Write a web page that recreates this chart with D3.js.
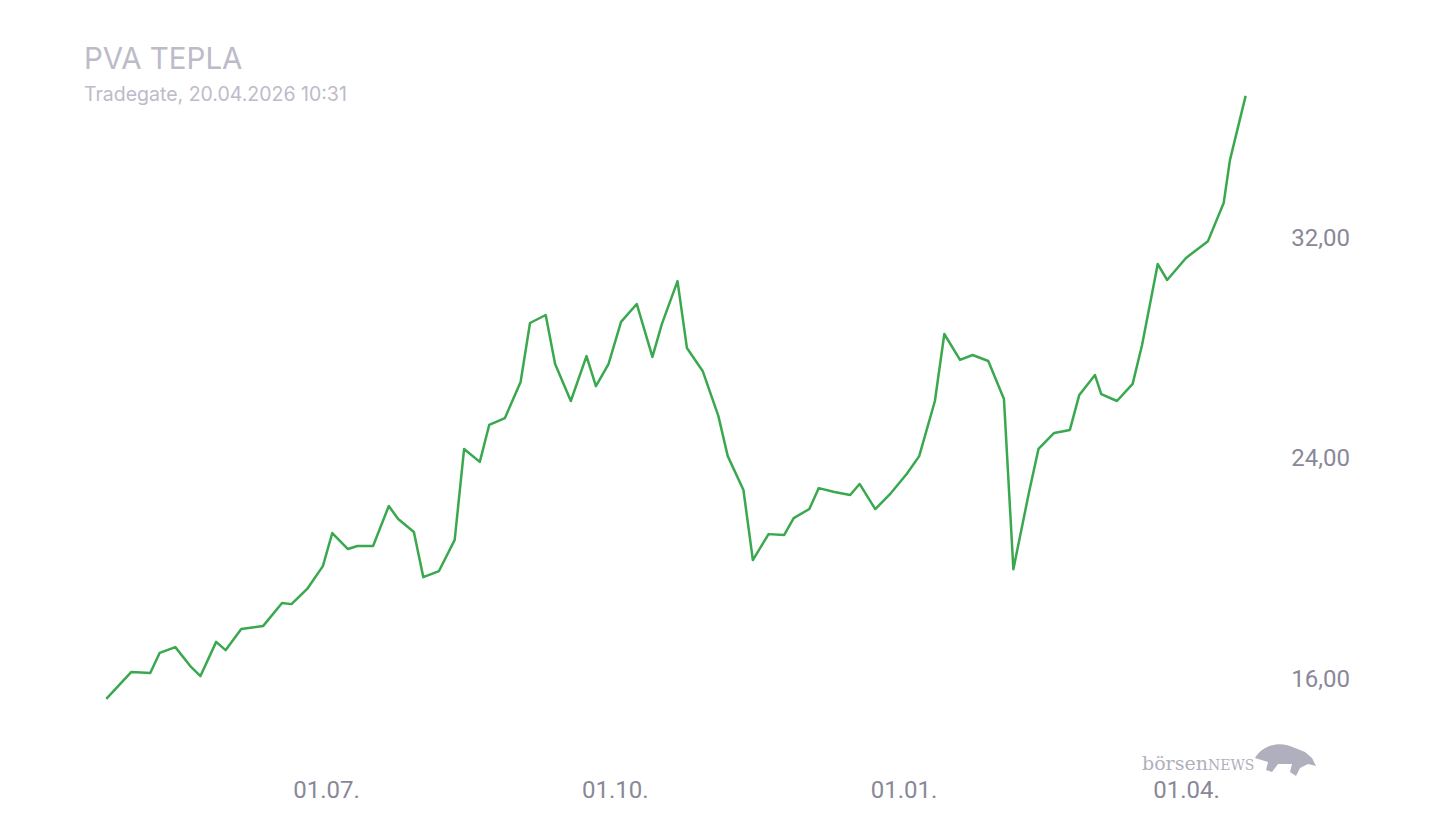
<!DOCTYPE html>
<html><head><meta charset="utf-8">
<script src="https://cdn.jsdelivr.net/npm/d3@7"></script>
<style>body{margin:0;background:#fff}</style></head>
<body><svg id="c" width="1440" height="840"></svg>
<script>
const dates=["2025-04-22","2025-04-30","2025-05-06","2025-05-09","2025-05-14","2025-05-19","2025-05-22","2025-05-27","2025-05-30","2025-06-04","2025-06-11","2025-06-17","2025-06-20","2025-06-25","2025-06-30","2025-07-03","2025-07-08","2025-07-11","2025-07-16","2025-07-21","2025-07-24","2025-07-29","2025-08-01","2025-08-06","2025-08-11","2025-08-14","2025-08-19","2025-08-22","2025-08-27","2025-09-01","2025-09-04","2025-09-09","2025-09-12","2025-09-17","2025-09-22","2025-09-25","2025-09-29","2025-10-03","2025-10-08","2025-10-13","2025-10-16","2025-10-21","2025-10-24","2025-10-29","2025-11-03","2025-11-06","2025-11-11","2025-11-14","2025-11-19","2025-11-24","2025-11-27","2025-12-02","2025-12-05","2025-12-10","2025-12-15","2025-12-18","2025-12-23","2025-12-28","2026-01-02","2026-01-06","2026-01-11","2026-01-14","2026-01-19","2026-01-23","2026-01-28","2026-02-02","2026-02-05","2026-02-10","2026-02-13","2026-02-18","2026-02-23","2026-02-26","2026-03-03","2026-03-05","2026-03-10","2026-03-15","2026-03-18","2026-03-23","2026-03-26","2026-04-01","2026-04-08","2026-04-13","2026-04-15","2026-04-20"];
const prices=[15.24,16.22,16.18,16.91,17.12,16.40,16.07,17.31,17.01,17.78,17.89,18.72,18.68,19.23,20.06,21.26,20.68,20.79,20.79,22.24,21.77,21.30,19.66,19.88,21.01,24.31,23.84,25.18,25.43,26.74,28.88,29.17,27.39,26.05,27.68,26.59,27.39,28.92,29.57,27.65,28.84,30.40,27.97,27.14,25.51,24.05,22.82,20.28,21.22,21.19,21.80,22.13,22.89,22.75,22.64,23.04,22.13,22.71,23.40,24.05,26.05,28.48,27.54,27.72,27.50,26.12,19.95,22.75,24.31,24.89,25.00,26.27,26.99,26.30,26.05,26.67,28.08,31.02,30.44,31.24,31.85,33.23,34.79,37.12];
const yTicks=[16,24,32];
const xTicks=["2025-07-01","2025-10-01","2026-01-01","2026-04-01"];
const title="PVA TEPLA", subtitle="Tradegate, 20.04.2026 10:31";

const svg=d3.select("#c");
const p=d3.timeParse("%Y-%m-%d");
const data=dates.map((d,i)=>({d:p(d),v:prices[i]}));
const x=d3.scaleTime().domain([p("2025-07-01"),p("2026-04-01")]).range([326,1186]);
const y=d3.scaleLinear().domain([16,32]).range([678,237]);

svg.append("text").attr("x",84).attr("y",69).text(title).attr("font-family","Inter, Roboto, sans-serif").attr("font-size",29.5).attr("fill","#bdbbc9");
svg.append("text").attr("x",84).attr("y",101).text(subtitle).attr("font-family","Inter, Roboto, sans-serif").attr("font-size",19.5).attr("fill","#bdbbc9");

const ya=svg.append("g").attr("transform","translate(1350,0)").call(d3.axisLeft(y).tickValues(yTicks).tickSize(0).tickFormat(d=>d3.format(".2f")(d).replace(".",",")));
ya.select(".domain").remove();
ya.selectAll("text").attr("font-family","Roboto, sans-serif").attr("font-size",24).attr("fill","#8a8898").attr("dy","0.35em").attr("x",0);

const xa=svg.append("g").attr("transform","translate(0,780)").call(d3.axisBottom(x).tickValues(xTicks.map(p)).tickSize(0).tickFormat(d3.timeFormat("%d.%m.")));
xa.select(".domain").remove();
xa.selectAll("text").attr("font-family","Roboto, sans-serif").attr("font-size",24).attr("fill","#8a8898").attr("dy","0.35em").attr("y",10);

svg.append("path").datum(data).attr("d",d3.line().x(d=>x(d.d)).y(d=>y(d.v))).attr("fill","none").attr("stroke","#3aa84f").attr("stroke-width",2.5).attr("stroke-linejoin","round");

const lg=svg.append("g");
lg.append("text").attr("x",1142).attr("y",770).attr("font-family","DejaVu Serif, serif").attr("font-size",19).attr("fill","#b0afbd").text("börsen").append("tspan").attr("font-size",14).text("NEWS");
lg.append("path").attr("d","M1255,758 C1262,745 1280,740 1295,748 L1305,752 L1312,758 L1316,766 L1308,764 L1300,768 L1296,776 L1290,772 L1292,764 L1278,764 L1272,772 L1266,770 L1268,762 Z").attr("fill","#b0afbd");
</script></body></html>
